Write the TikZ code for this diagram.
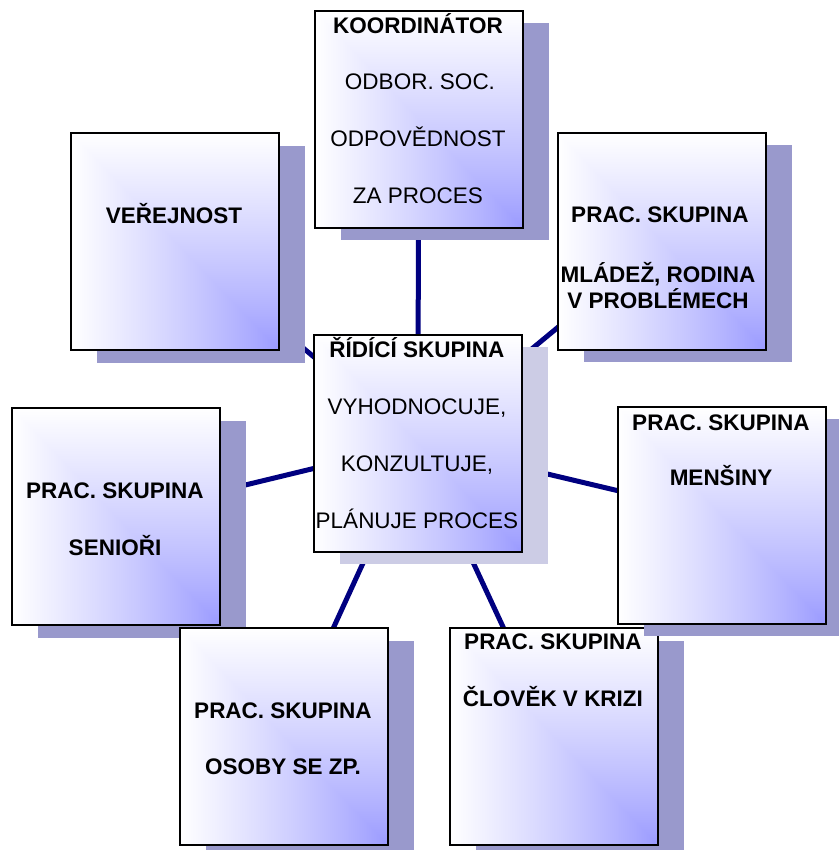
\documentclass[tikz,border=0pt]{standalone}
\usepackage{fontspec}
\setmainfont{Liberation Sans}
\usetikzlibrary{backgrounds}
\definecolor{shadowc}{HTML}{9999CC}
\definecolor{shadowlight}{HTML}{CCCCE5}
\definecolor{linkc}{HTML}{000080}
\pgfdeclarefunctionalshading{corner}{\pgfpointorigin}{\pgfpoint{100bp}{100bp}}{}{
  25 sub 50 div
  exch 75 exch sub 50 div
  2 copy lt {exch} if pop
  dup 0 lt {pop 0} if
  dup 1 gt {pop 1} if
  0.85 exp
  0.4 mul 0.6 add
  dup 1
}
\newcommand{\fsz}{\fontsize{22.5bp}{26bp}\selectfont}
\tikzset{
  box/.style={draw=black, line width=1.6bp, shade, shading=corner,
    minimum width=208bp, minimum height=217bp, inner sep=0pt, anchor=north west},
  shadowbox/.style={fill=shadowc, draw=none, minimum width=208bp,
    minimum height=217bp, inner sep=0pt, anchor=north west},
  btxt/.style={anchor=base, inner sep=0pt, font=\fsz\bfseries},
  rtxt/.style={anchor=base, inner sep=0pt, font=\fsz},
  link/.style={draw=linkc, line width=5bp},
}
\begin{document}
\begin{tikzpicture}[x=1bp, y=-1bp]
\useasboundingbox (0,0) rectangle (839,850);

% KOORDINATOR
\node[shadowbox] (koordS) at (341,23) {};
\node[box] (koord) at (314,10) {};
\node[btxt] (koord1) at (418,33) {KOORDINÁTOR};
\node[rtxt] (koord2) at (420,89) {ODBOR. SOC.};
\node[rtxt] (koord3) at (418,146) {ODPOVĚDNOST};
\node[rtxt] (koord4) at (418,203) {ZA PROCES};

% VEREJNOST
\node[shadowbox] (verejS) at (97,146) {};
\node[box] (verej) at (70,132) {};
\node[btxt] (verej1) at (174,223) {VEŘEJNOST};

% MLADEZ
\node[shadowbox] (mladezS) at (584,145) {};
\node[box] (mladez) at (557,132) {};
\node[btxt] (mladez1) at (660,222) {PRAC. SKUPINA};
\node[btxt] (mladez2) at (658,282) {MLÁDEŽ, RODINA};
\node[btxt] (mladez3) at (658,308) {V PROBLÉMECH};

% RIDICI
\node[shadowbox, fill=shadowlight] (ridiciS) at (340,347) {};
\node[box] (ridici) at (313,334) {};
\node[btxt] (ridici1) at (417,357) {ŘÍDÍCÍ SKUPINA};
\node[rtxt] (ridici2) at (417,414) {VYHODNOCUJE,};
\node[rtxt] (ridici3) at (417,471) {KONZULTUJE,};
\node[rtxt] (ridici4) at (417,528) {PLÁNUJE PROCES};

% SENIORI
\node[shadowbox] (seniorS) at (38,421) {};
\node[box] (senior) at (11,407) {};
\node[btxt] (senior1) at (115,498) {PRAC. SKUPINA};
\node[btxt] (senior2) at (115,555) {SENIOŘI};

% OSOBY
\node[shadowbox] (osobyS) at (206,641) {};
\node[box] (osoby) at (179,627) {};
\node[btxt] (osoby1) at (283,718) {PRAC. SKUPINA};
\node[btxt] (osoby2) at (283,774) {OSOBY SE ZP.};

% CLOVEK
\node[shadowbox] (clovekS) at (476,641) {};
\node[box] (clovek) at (449,627) {};
\node[btxt] (clovek1) at (553,649) {PRAC. SKUPINA};
\node[btxt] (clovek2) at (553,706) {ČLOVĚK V KRIZI};

% MENSINY
\node[shadowbox] (mensinS) at (644,419) {};
\node[box] (mensin) at (617,406) {};
\node[btxt] (mensin1) at (721,430) {PRAC. SKUPINA};
\node[btxt] (mensin2) at (721,485) {MENŠINY};

% connectors
\begin{scope}[on background layer]
\draw[link] (ridici.center) -- (koord.center);
\draw[link] (ridici.center) -- (verej.center);
\draw[link] (ridici.center) -- (mladez.center);
\draw[link] (ridici.center) -- (senior.center);
\draw[link] (ridici.center) -- (mensin.center);
\draw[link] (ridici.center) -- (osoby.center);
\draw[link] (ridici.center) -- (clovek.center);
\end{scope}
\end{tikzpicture}
\end{document}
